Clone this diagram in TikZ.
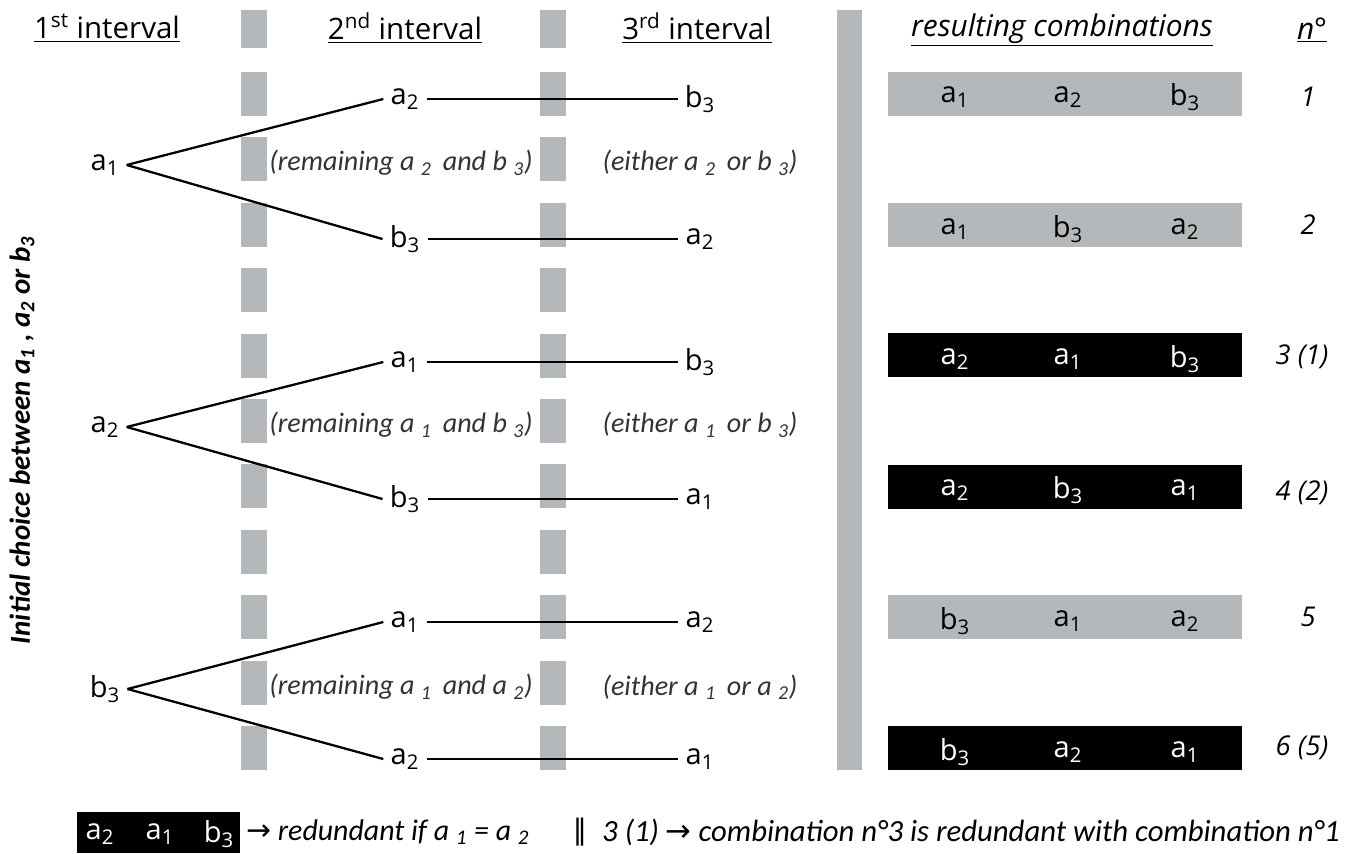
\documentclass[tikz,border=0pt]{standalone}
\usepackage{fontspec}
\setmainfont{Open Sans}
\newfontfamily\notefont{Carlito}
\newfontfamily\symfont{DejaVu Sans}
\definecolor{bargray}{RGB}{180,184,186}
\newcommand{\sub}[2]{#1\textsubscript{#2}}
\begin{document}
\begin{tikzpicture}[x=0.02cm,y=-0.02cm,font=\fontsize{16.5}{19}\selectfont,
	elem/.style={inner sep=4pt},
	link/.style={line width=1.3pt},
	head/.style={font=\fontsize{16.8}{19}\selectfont},
	note/.style={font=\notefont\itshape\fontsize{16}{18}\selectfont,text=black!80},
	num/.style={font=\itshape\fontsize{15.5}{18}\selectfont}]
	\useasboundingbox (0,0) rectangle (1355,853);
	% gray separators
	\fill[bargray] (241,10) rectangle (267,48);
	\fill[bargray] (540,10) rectangle (566,48);
	\foreach \k in {0,...,10}{
		\fill[bargray] (241,{72+65.4*\k}) rectangle (267,{116+65.4*\k});
		\fill[bargray] (540,{72+65.4*\k}) rectangle (566,{116+65.4*\k});
	}
	\fill[bargray] (837,10) rectangle (862,770);
	% headers
	\node[head] (h1) at (107,28) {\underline{1\textsuperscript{st} interval}};
	\node[head] (h2) at (405,28) {\underline{2\textsuperscript{nd} interval}};
	\node[head] (h3) at (697,28) {\underline{3\textsuperscript{rd} interval}};
	\node[head,font=\itshape\fontsize{17}{19}\selectfont] (h4) at (1062,30) {\underline{resulting combinations}};
	\node[head,font=\itshape\fontsize{17}{19}\selectfont] (h5) at (1312,30) {\underline{n°}};
	% first interval
	\node[elem] (a1) at (105,165) {\sub{a}{1}};
	\node[elem] (a2) at (105,427) {\sub{a}{2}};
	\node[elem] (b3) at (105,689) {\sub{b}{3}};
	% second interval
	\node[elem] (m1) at (405,99) {\sub{a}{2}};
	\node[elem] (m2) at (405,239) {\sub{b}{3}};
	\node[elem] (m3) at (405,362) {\sub{a}{1}};
	\node[elem] (m4) at (405,499) {\sub{b}{3}};
	\node[elem] (m5) at (405,622) {\sub{a}{1}};
	\node[elem] (m6) at (405,759) {\sub{a}{2}};
	% third interval
	\node[elem] (e1) at (700,99) {\sub{b}{3}};
	\node[elem] (e2) at (700,239) {\sub{a}{2}};
	\node[elem] (e3) at (700,362) {\sub{b}{3}};
	\node[elem] (e4) at (700,499) {\sub{a}{1}};
	\node[elem] (e5) at (700,622) {\sub{a}{2}};
	\node[elem] (e6) at (700,759) {\sub{a}{1}};
	% branches
	\draw[link] (a1.east) -- (m1.west);
	\draw[link] (a1.east) -- (m2.west);
	\draw[link] (a2.east) -- (m3.west);
	\draw[link] (a2.east) -- (m4.west);
	\draw[link] (b3.east) -- (m5.west);
	\draw[link] (b3.east) -- (m6.west);
	\foreach \i in {1,...,6}
		\draw[link] (m\i) -- (e\i);
	% notes
	\node[note] (r1) at (401,163) {(remaining a \textsubscript{2}\, and b \textsubscript{3})};
	\node[note] (o1) at (700,163) {(either a \textsubscript{2}\, or b \textsubscript{3})};
	\node[note] (r2) at (401,425) {(remaining a \textsubscript{1}\, and b \textsubscript{3})};
	\node[note] (o2) at (700,425) {(either a \textsubscript{1}\, or b \textsubscript{3})};
	\node[note] (r3) at (401,687) {(remaining a \textsubscript{1}\, and a \textsubscript{2})};
	\node[note] (o3) at (700,687) {(either a \textsubscript{1}\, or a \textsubscript{2})};
	% resulting combinations
	\foreach \y/\f in {93.5/bargray,225/bargray,355/black,486.5/black,617/bargray,748/black}
		\fill[\f] (888,\y-22) rectangle (1242,\y+22);
	\node[elem] (c11) at (955,97) {\sub{a}{1}};
	\node[elem] (c12) at (1068,97) {\sub{a}{2}};
	\node[elem] (c13) at (1185,97) {\sub{b}{3}};
	\node[elem] (c21) at (955,229) {\sub{a}{1}};
	\node[elem] (c22) at (1068,229) {\sub{b}{3}};
	\node[elem] (c23) at (1185,229) {\sub{a}{2}};
	\node[elem,text=white] (c31) at (955,359) {\sub{a}{2}};
	\node[elem,text=white] (c32) at (1068,359) {\sub{a}{1}};
	\node[elem,text=white] (c33) at (1185,359) {\sub{b}{3}};
	\node[elem,text=white] (c41) at (955,490) {\sub{a}{2}};
	\node[elem,text=white] (c42) at (1068,490) {\sub{b}{3}};
	\node[elem,text=white] (c43) at (1185,490) {\sub{a}{1}};
	\node[elem] (c51) at (955,621) {\sub{b}{3}};
	\node[elem] (c52) at (1068,621) {\sub{a}{1}};
	\node[elem] (c53) at (1185,621) {\sub{a}{2}};
	\node[elem,text=white] (c61) at (955,752) {\sub{b}{3}};
	\node[elem,text=white] (c62) at (1068,752) {\sub{a}{2}};
	\node[elem,text=white] (c63) at (1185,752) {\sub{a}{1}};
	% numbers
	\node[num] (n1) at (1308,97) {1};
	\node[num] (n2) at (1308,225) {2};
	\node[num] (n3) at (1302,357) {3 (1)};
	\node[num] (n4) at (1302,493) {4 (2)};
	\node[num] (n5) at (1308,617) {5};
	\node[num] (n6) at (1302,748) {6 (5)};
	% side label
	\node[rotate=90,font=\notefont\bfseries\itshape\fontsize{16.5}{18}\selectfont] (choice) at (22,440)
		{Initial choice between \sub{a}{1} , \sub{a}{2} or \sub{b}{3}};
	% legend
	\fill[black] (77,812) rectangle (240,853);
	\node[elem,text=white] (l1) at (100,834) {\sub{a}{2}};
	\node[elem,text=white] (l2) at (160,834) {\sub{a}{1}};
	\node[elem,text=white] (l3) at (219,834) {\sub{b}{3}};
	\node[note,text=black,anchor=west,font=\notefont\itshape\fontsize{17}{19}\selectfont] (red) at (240,832)
		{{\symfont\upshape →} redundant if a \textsubscript{1} = a \textsubscript{2}};
	\node[note,text=black] (bar) at (580,832) {{\symfont\upshape ‖}};
	\node[note,text=black,anchor=west,font=\notefont\itshape\fontsize{17.5}{19}\selectfont] (expl) at (596,832)
		{3 (1) {\symfont\upshape →} combination n°3 is redundant with combination n°1};
\end{tikzpicture}
\end{document}
